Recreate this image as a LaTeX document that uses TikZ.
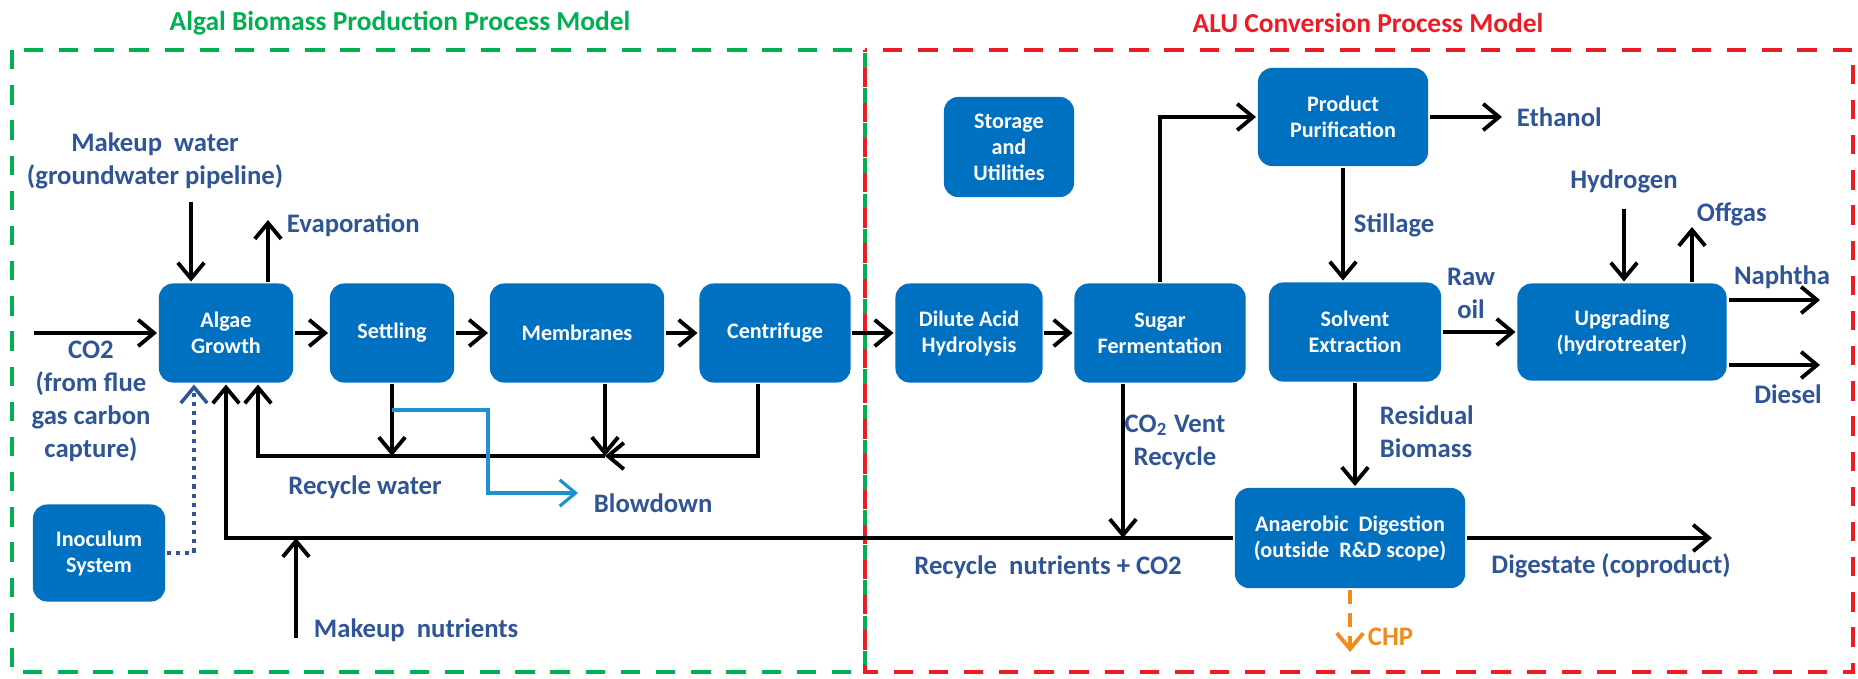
\documentclass[tikz,border=0pt]{standalone}
\usepackage{fontspec}
\setmainfont{Carlito}
\usetikzlibrary{arrows.meta}
\definecolor{procblue}{RGB}{0,112,192}
\definecolor{labblue}{RGB}{47,85,151}
\definecolor{grn}{RGB}{0,176,80}
\definecolor{rd}{RGB}{237,28,36}
\definecolor{chporange}{RGB}{240,140,30}
\definecolor{bdblue}{RGB}{30,144,210}
\tikzset{
  proc/.style={fill=procblue, rounded corners=4pt, text=white, align=center, inner sep=0pt,
    minimum height=0.99cm, font=\bfseries\fontsize{6.3}{7.4}\selectfont},
  lab/.style={text=labblue, align=center, inner sep=0pt, font=\bfseries\fontsize{7.6}{9.4}\selectfont},
  region/.style={line width=1.2pt, dash pattern=on 5.5pt off 4.5pt},
  ttl/.style={inner sep=0pt, font=\bfseries\fontsize{7.8}{9}\selectfont},
}
\begin{document}
\begin{tikzpicture}[x=0.01cm, y=-0.01cm, >={Straight Barb[length=4.5pt,width=7.5pt]}, line width=1.1pt]
\useasboundingbox (0,0) rectangle (1858,678);
% the two process models
\draw[region, grn] (12,50) rectangle (865,672);
\draw[region, rd, dash phase=5pt] (865,50) rectangle (1853,672);
\node[ttl, text=grn] (ttlalgal) at (400,23) {Algal Biomass Production Process Model};
\node[ttl, text=rd] (ttlalu) at (1368,23) {ALU Conversion Process Model};

% process blocks
\node[proc, minimum width=1.34cm] (algae) at (226,333) {Algae\\Growth};
\node[proc, minimum width=1.24cm] (settle) at (392,333) {Settling};
\node[proc, minimum width=1.74cm] (membr) at (577,333) {Membranes};
\node[proc, minimum width=1.51cm] (centri) at (775,333) {Centrifuge};
\node[proc, minimum width=1.47cm] (dilute) at (969,333) {Dilute Acid\\Hydrolysis};
\node[proc, minimum width=1.71cm] (sugar) at (1160,333) {Sugar\\Fermentation};
\node[proc, minimum width=1.72cm] (solvent) at (1355,332) {Solvent\\Extraction};
\node[proc, minimum width=2.09cm, minimum height=0.97cm] (upgrade) at (1622,332) {Upgrading\\(hydrotreater)};
\node[proc, minimum width=1.70cm, minimum height=0.98cm] (purif) at (1343,117) {Product\\Purification};
\node[proc, minimum width=1.30cm, minimum height=1.0cm] (storage) at (1009,147) {Storage\\and\\Utilities};
\node[proc, minimum width=2.30cm, minimum height=1.0cm] (digest) at (1350,538) {Anaerobic~ Digestion\\(outside~ R\&D scope)};
\node[proc, minimum width=1.32cm, minimum height=0.97cm] (inoc) at (99,553) {Inoculum\\System};

% stream labels
\node[lab] (mwlab) at (155,161) {Makeup~ water\\(groundwater pipeline)};
\node[lab, anchor=west] (evlab) at (285,225) {Evaporation};
\node[lab] (co2lab) at (91,401) {CO2\\(from flue\\gas carbon\\capture)};
\node[lab] (rwlab) at (365,487) {Recycle water};
\node[lab, anchor=west] (bdlab) at (592,503) {Blowdown};
\node[lab, anchor=west] (nutlab) at (312,630) {Makeup~ nutrients};
\node[lab] (rnlab) at (1048,567) {Recycle~ nutrients + CO2};
\node[lab] (ventlab) at (1175,442) {CO\textsubscript{2} Vent\\Recycle};
\node[lab, anchor=west] (stlab) at (1352,225) {Stillage};
\node[lab] (rawlab) at (1471,293) {Raw\\oil};
\node[lab, anchor=west] (ethlab) at (1515,117) {Ethanol};
\node[lab] (hydlab) at (1624,181) {Hydrogen};
\node[lab, anchor=west] (offlab) at (1695,214) {Offgas};
\node[lab] (naplab) at (1782,277) {Naphtha};
\node[lab] (dieslab) at (1788,394) {Diesel};
\node[lab, anchor=west, align=left] (reslab) at (1378,432) {Residual\\Biomass};
\node[lab] (dglab) at (1611,566) {Digestate (coproduct)};
\node[lab, anchor=west, text=chporange] (chplab) at (1366,637) {CHP};

% free ends
\coordinate (co2in) at (34,333);
\coordinate (mw) at (191,202);
\coordinate (evtip) at (268,220);
\coordinate (inj) at (194,553);
\coordinate (nutin) at (296,638);
\coordinate (rwr) at (758,456);
\coordinate (mj) at (605,456);
\coordinate (rwl) at (258,456);
\coordinate (bd) at (488,410);
\coordinate (bdtip) at (578,493);
\coordinate (vent) at (1123,538);
\coordinate (ethtip) at (1502,117);
\coordinate (offtip) at (1692,227);
\coordinate (naptip) at (1820,300);
\coordinate (dieseltip) at (1820,365);
\coordinate (dgtip) at (1712,538);
\coordinate (chptip) at (1350,652);

% main line
\draw[->] (co2in) -- (algae);
\foreach \a/\b in {algae/settle, settle/membr, membr/centri, centri/dilute, dilute/sugar, solvent/upgrade}
  \draw[->] (\a) -- (\b);
\draw[->] (mw) -- (mw |- algae.north);
\draw[->] (algae.north -| evtip) -- (evtip);
\draw[->] (sugar.north) |- (purif.west);
\draw[->] (purif.east) -- (ethtip);
\draw[->] (purif.south) -- (purif.south |- solvent.north);
\draw[->] (solvent.south) -- (solvent.south |- digest.north);
\draw[->] ([yshift=-4pt]hydlab.south) -- (hydlab.south |- upgrade.north);
\draw[->] (upgrade.north -| offtip) -- (offtip);
\draw[->] (upgrade.east |- naptip) -- (naptip);
\draw[->] (upgrade.east |- dieseltip) -- (dieseltip);
\draw[->] (digest.east) -- (dgtip);
\draw[->, chporange, dash pattern=on 4pt off 2.5pt] (digest.south) -- (chptip);

% recycle water
\draw[->] (centri.south -| rwr) -- (rwr) -- (mj);
\draw[->] (membr.south -| mj) -- (mj);
\draw[->] (mj) -- (rwl) -- (rwl |- algae.south);
\draw[->] (settle.south) -- (settle.south |- rwl);
\draw[->, bdblue, line width=0.9pt] (settle.south |- bd) -- (bd) |- (bdtip);

% recycle nutrients
\draw[->] (digest.west) -| (algae.south);
\draw[->] (sugar.south -| vent) -- (vent);
\draw[->] (nutin) -- (nutin |- digest.west);
\draw[->, labblue, line width=1pt, dash pattern=on 1.2pt off 1.4pt] (inoc.east) -- (inj) -- (inj |- algae.south);
\end{tikzpicture}
\end{document}
